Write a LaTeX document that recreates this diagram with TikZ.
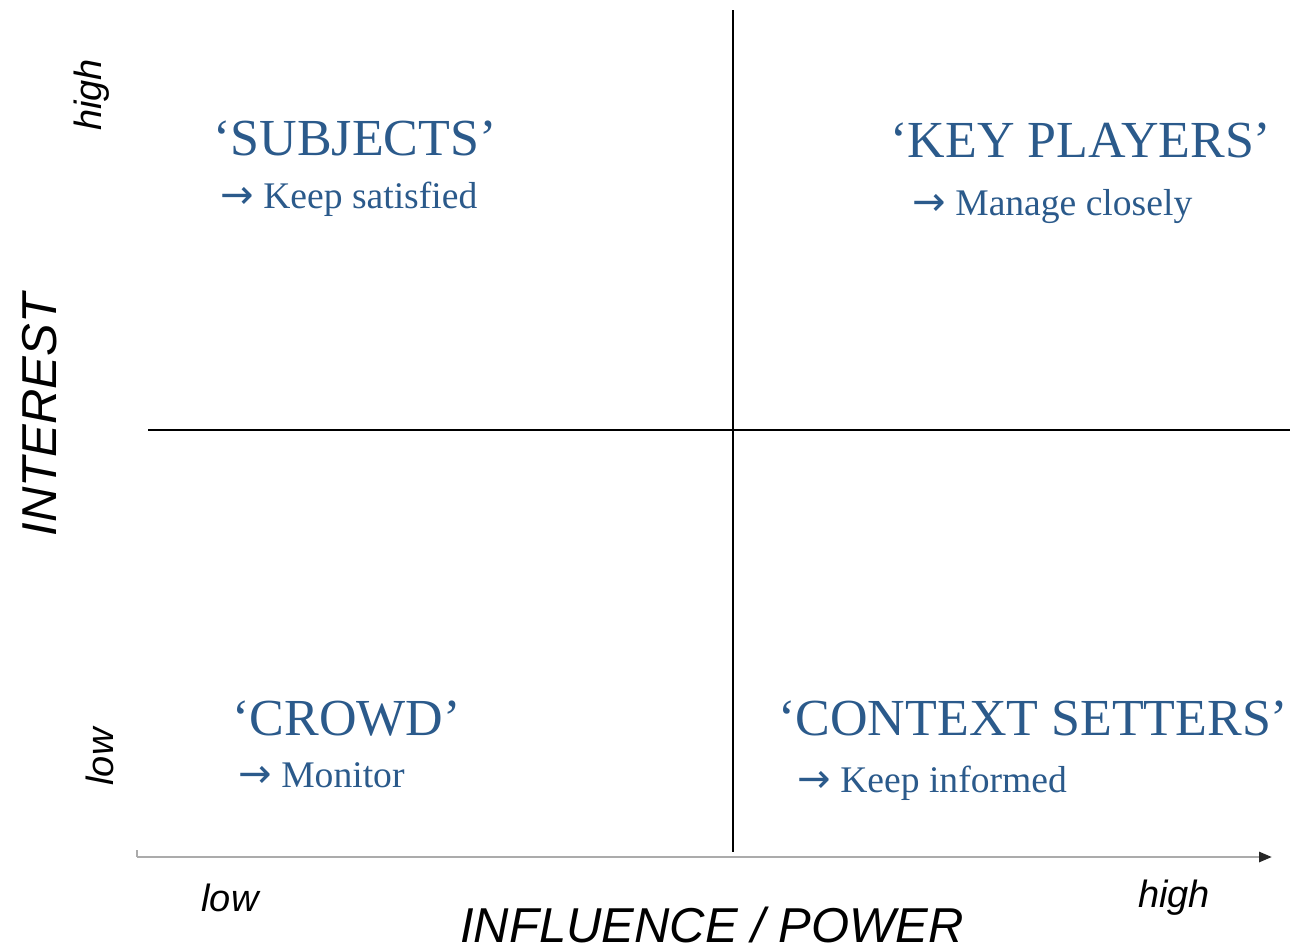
\documentclass[tikz,border=0pt]{standalone}
\usepackage{fontspec}
\setmainfont{Liberation Serif}
\newfontfamily\axisfont{Liberation Sans}
\newfontfamily\arrowfont{DejaVu Sans}
\usetikzlibrary{arrows.meta,positioning}
\definecolor{quadblue}{HTML}{2B5A8B}
\tikzset{
  quadlbl/.style={font=\fontsize{26}{30}\selectfont,text=quadblue,inner sep=0pt,anchor=base west},
  quadact/.style={font=\fontsize{18.8}{22}\selectfont,text=quadblue,inner sep=0pt,anchor=base west},
  axislbl/.style={font=\axisfont\itshape\fontsize{24.5}{28}\selectfont,inner sep=0pt},
  axisend/.style={font=\axisfont\itshape\fontsize{19}{22}\selectfont,inner sep=0pt},
  divider/.style={line width=0.6pt,black},
  axisline/.style={line width=1.4pt,black!33,-{Triangle[length=6.5pt,width=5pt,color=black!85]}},
}
\newcommand{\act}{{\arrowfont\fontsize{20}{22}\selectfont →}\ }
\begin{document}
\begin{tikzpicture}[x=0.5pt,y=-0.5pt]
  \useasboundingbox (0,0) rectangle (1308,950);
  % quadrant dividers
  \coordinate (vtop) at (733,10);
  \coordinate (vbot) at (733,852);
  \coordinate (hleft) at (148,430);
  \coordinate (hright) at (1290,430);
  \draw[divider] (vtop) -- (vbot);
  \draw[divider] (hleft) -- (hright);
  % horizontal axis
  \coordinate (ax0) at (137,857);
  \coordinate (ax1) at (1272,857);
  \coordinate (tick) at (137,850);
  \draw[axisline] (ax0) -- (ax1);
  \draw[line width=1.4pt,black!33] (tick) -- (ax0);
  \node[axisend] (xlow) at (230,898) {low};
  \node[axisend] (xhigh) at (1174,898) {high};
  \node[axislbl] (xlbl) at (712,925) {INFLUENCE / POWER};
  % vertical axis labels
  \node[axislbl,rotate=90] (ylbl) at (40,415) {INTEREST};
  \node[axisend,rotate=90] (yhigh) at (92,95) {high};
  \node[axisend,rotate=90] (ylow) at (100,757) {low};
  % quadrants
  \node[quadlbl] (subj) at (213,155) {‘SUBJECTS’};
  \node[quadact] (subjAct) at ([xshift=3.5pt,yshift=-26.5pt]subj.base west) {\act Keep satisfied};
  \node[quadlbl] (key) at (890,157) {‘KEY PLAYERS’};
  \node[quadact] (keyAct) at ([xshift=11pt,yshift=-29pt]key.base west) {\act Manage closely};
  \node[quadlbl] (crowd) at (232,735) {‘CROWD’};
  \node[quadact] (crowdAct) at ([xshift=3pt,yshift=-26pt]crowd.base west) {\act Monitor};
  \node[quadlbl] (ctx) at (778,735) {‘CONTEXT SETTERS’};
  \node[quadact] (ctxAct) at ([xshift=9.5pt,yshift=-28.5pt]ctx.base west) {\act Keep informed};
\end{tikzpicture}
\end{document}
